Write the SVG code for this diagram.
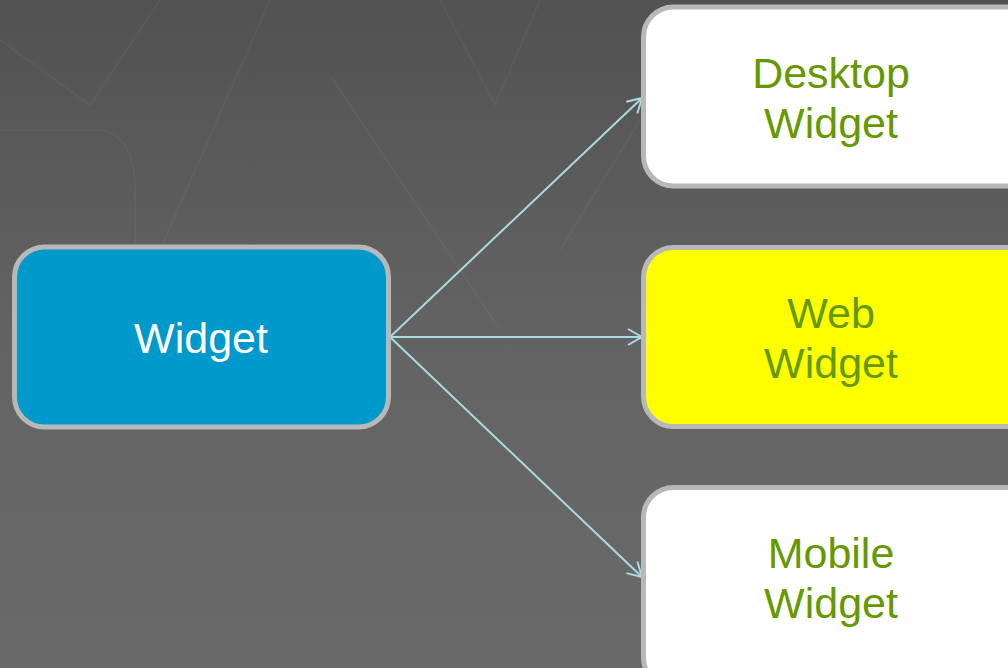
<svg xmlns="http://www.w3.org/2000/svg" width="1008" height="668" viewBox="0 0 1008 668">
<defs>
<linearGradient id="bg" x1="0" y1="0" x2="0" y2="1">
<stop offset="0" stop-color="#525252"/>
<stop offset="0.5" stop-color="#636363"/>
<stop offset="1" stop-color="#6a6a6a"/>
</linearGradient>
<marker id="arr" markerUnits="userSpaceOnUse" markerWidth="20" markerHeight="20" viewBox="0 0 20 20" refX="18" refY="10" orient="auto">
<path d="M4,2 L18,10 L4,18" fill="none" stroke="#a9dbe0" stroke-width="2"/>
</marker>
<style>
.box{stroke:#b8b8b8;stroke-width:5}
.lbl{font-family:"Liberation Sans",Arial,sans-serif;font-size:43px;text-anchor:middle}
.g{fill:#669900}
.conn{stroke:#a9dbe0;stroke-width:2;fill:none;marker-end:url(#arr)}
.deco{stroke:#ffffff;stroke-opacity:0.035;stroke-width:2;fill:none}
</style>
</defs>
<rect width="1008" height="668" fill="url(#bg)"/>
<g id="background-decor">
<path class="deco" d="M0,40 L90,105 L160,0"/>
<path class="deco" d="M160,250 L270,0"/>
<path class="deco" d="M440,0 L495,105 L540,0"/>
<path class="deco" d="M0,130 L100,130 Q135,135 135,190 L135,245"/>
<path class="deco" d="M330,75 L500,330"/>
<path class="deco" d="M560,250 L640,120"/>
</g>
<g id="connectors">
<line class="conn" x1="390" y1="337" x2="642" y2="98"/>
<line class="conn" x1="390" y1="337" x2="642" y2="337"/>
<line class="conn" x1="390" y1="337" x2="642" y2="577"/>
</g>
<g id="node-widget">
<rect class="box" x="14.5" y="247" width="374" height="180" rx="30" fill="#0099cc"/>
<text class="lbl" x="201" y="353" fill="#ffffff">Widget</text>
</g>
<g id="node-desktop">
<rect class="box" x="643.5" y="7" width="400" height="179" rx="30" fill="#ffffff"/>
<text class="lbl g" x="831" y="88">Desktop</text>
<text class="lbl g" x="831" y="138">Widget</text>
</g>
<g id="node-web">
<rect class="box" x="643.5" y="247.5" width="400" height="179" rx="30" fill="#ffff00"/>
<text class="lbl g" x="831" y="328">Web</text>
<text class="lbl g" x="831" y="378">Widget</text>
</g>
<g id="node-mobile">
<rect class="box" x="643.5" y="487.5" width="400" height="200" rx="30" fill="#ffffff"/>
<text class="lbl g" x="831" y="568">Mobile</text>
<text class="lbl g" x="831" y="618">Widget</text>
</g>
</svg>
